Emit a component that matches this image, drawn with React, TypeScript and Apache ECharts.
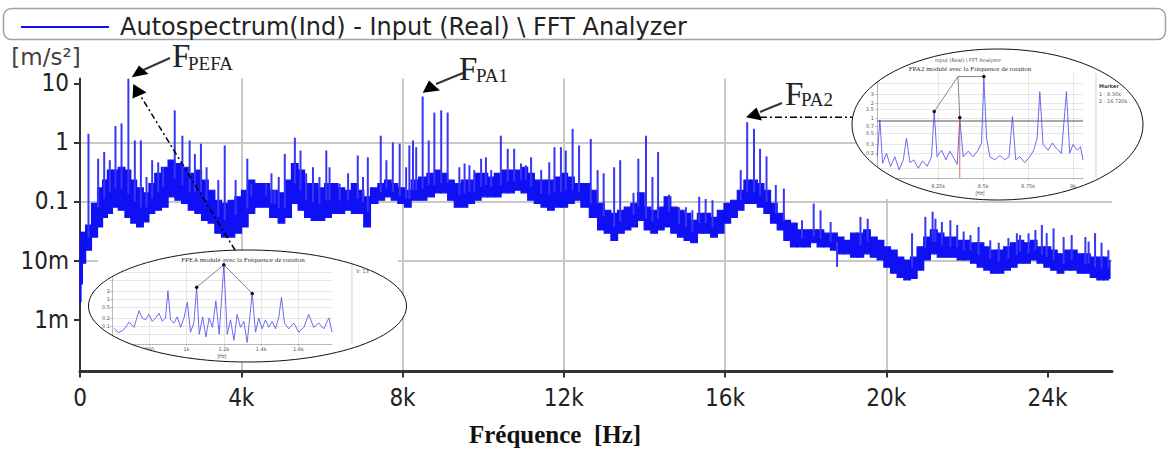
import React, { useEffect, useRef } from "react";
import * as echarts from "echarts";

const seriesName = "Autospectrum(Ind) - Input (Real) \\ FFT Analyzer";
const xTickValues = [0, 4000, 8000, 12000, 16000, 20000, 24000];
const xTickLabels = ["0", "4k", "8k", "12k", "16k", "20k", "24k"];
const yTickValues = [0.001, 0.01, 0.1, 1, 10];
const yTickLabels = ["1m", "10m", "0.1", "1", "10"];

// noise band envelope of the autospectrum (Hz, upper, lower) in m/s²
const bandFreq = [
  0, 40, 80, 200, 370, 500, 620, 740, 870, 1030,
  1200, 1320, 1490, 1650, 1770, 1940, 2100, 2270, 2440, 2600,
  2770, 2930, 3100, 3260, 3430, 3590, 3760, 3920, 4090, 4250,
  4420, 4580, 4830, 5000, 5160, 5330, 5490, 5650, 5820, 5990,
  6150, 6320, 6480, 6650, 6810, 6980, 7100, 7310, 7470, 7640,
  7800, 7970, 8130, 8300, 8500, 8710, 8870, 9040, 9200, 9370,
  9540, 9700, 9870, 10030, 10200, 10360, 10530, 10690, 10860, 11020,
  11190, 11350, 11520, 11680, 11850, 12010, 12180, 12340, 12510, 12760,
  12920, 13090, 13250, 13420, 13580, 13750, 13910, 14080, 14240, 14410,
  14570, 14740, 14900, 15070, 15230, 15400, 15560, 15730, 15890, 16060,
  16220, 16390, 16550, 16720, 16880, 17050, 17210, 17380, 17540, 17710,
  17870, 18040, 18200, 18370, 18530, 18700, 18870, 19030, 19200, 19360,
  19520, 19690, 19860, 20020, 20190, 20350, 20520, 20680, 20850, 21010,
  21180, 21350, 21510, 21680, 21840, 22010, 22170, 22340, 22500, 22670,
  22830, 23000, 23160, 23330, 23490, 23660, 23820, 24000, 24160, 24320,
  24490, 24650, 24820, 24980, 25140, 25310, 25470, 25550,
];
const bandHigh = [
  0.02, 0.03, 0.03, 0.04, 0.093, 0.17, 0.23, 0.34, 0.34, 0.38,
  0.34, 0.23, 0.17, 0.14, 0.2, 0.3, 0.38, 0.5, 0.44, 0.38,
  0.3, 0.34, 0.23, 0.155, 0.105, 0.093, 0.105, 0.12, 0.155, 0.23,
  0.2, 0.2, 0.155, 0.14, 0.23, 0.44, 0.34, 0.2, 0.2, 0.17,
  0.2, 0.2, 0.17, 0.155, 0.2, 0.155, 0.12, 0.17, 0.2, 0.23,
  0.2, 0.17, 0.155, 0.23, 0.26, 0.3, 0.34, 0.3, 0.23, 0.2,
  0.23, 0.23, 0.3, 0.3, 0.26, 0.3, 0.34, 0.34, 0.34, 0.38,
  0.3, 0.23, 0.23, 0.23, 0.26, 0.3, 0.26, 0.2, 0.2, 0.155,
  0.093, 0.071, 0.063, 0.071, 0.08, 0.093, 0.14, 0.08, 0.071, 0.08,
  0.12, 0.08, 0.071, 0.063, 0.048, 0.063, 0.063, 0.054, 0.071, 0.093,
  0.105, 0.155, 0.23, 0.23, 0.2, 0.155, 0.093, 0.063, 0.048, 0.043,
  0.033, 0.033, 0.033, 0.033, 0.029, 0.029, 0.025, 0.022, 0.029, 0.029,
  0.033, 0.025, 0.022, 0.017, 0.015, 0.0114, 0.0102, 0.0114, 0.017, 0.025,
  0.033, 0.029, 0.025, 0.025, 0.022, 0.022, 0.02, 0.02, 0.017, 0.015,
  0.015, 0.017, 0.02, 0.022, 0.02, 0.022, 0.017, 0.017, 0.015, 0.013,
  0.015, 0.015, 0.013, 0.013, 0.0114, 0.0114, 0.0114, 0.01,
];
const bandLow = [
  0.002, 0.004, 0.009, 0.015, 0.025, 0.037, 0.054, 0.063, 0.08, 0.071,
  0.054, 0.043, 0.037, 0.045, 0.063, 0.071, 0.08, 0.12, 0.105, 0.093,
  0.071, 0.063, 0.048, 0.043, 0.029, 0.025, 0.025, 0.029, 0.037, 0.063,
  0.08, 0.08, 0.054, 0.043, 0.054, 0.093, 0.071, 0.054, 0.048, 0.048,
  0.054, 0.063, 0.063, 0.071, 0.063, 0.063, 0.037, 0.093, 0.105, 0.12,
  0.105, 0.093, 0.08, 0.105, 0.105, 0.12, 0.14, 0.14, 0.105, 0.08,
  0.08, 0.093, 0.105, 0.12, 0.12, 0.12, 0.14, 0.14, 0.155, 0.14,
  0.105, 0.093, 0.08, 0.071, 0.08, 0.08, 0.093, 0.105, 0.08, 0.054,
  0.033, 0.029, 0.022, 0.029, 0.033, 0.037, 0.048, 0.033, 0.029, 0.033,
  0.037, 0.029, 0.025, 0.022, 0.02, 0.029, 0.029, 0.025, 0.029, 0.043,
  0.054, 0.071, 0.093, 0.093, 0.08, 0.063, 0.043, 0.033, 0.022, 0.017,
  0.017, 0.017, 0.02, 0.017, 0.017, 0.015, 0.013, 0.013, 0.0114, 0.0114,
  0.013, 0.0114, 0.0102, 0.0077, 0.0061, 0.0052, 0.0047, 0.005, 0.0069, 0.0102,
  0.013, 0.0114, 0.0114, 0.0114, 0.0102, 0.0102, 0.009, 0.0077, 0.0069, 0.0061,
  0.0061, 0.0069, 0.0077, 0.009, 0.009, 0.0102, 0.009, 0.0077, 0.0069, 0.0061,
  0.0069, 0.0069, 0.0061, 0.0061, 0.0052, 0.0047, 0.0047, 0.005,
];

// discrete spectral lines (Hz, peak m/s²)
const spikePeaks = [
  [210, 1.4], [450, 0.53], [600, 0.69], [740, 0.5], [880, 1.9], [1030, 2.1], [1200, 12], [1360, 1.08], [1510, 1.08], [1650, 0.26],
  [1790, 0.5], [1940, 0.46], [2060, 0.38], [2350, 3.5], [2540, 1.3], [2720, 1.08], [2850, 0.64], [3000, 0.95], [3140, 0.38], [3430, 0.23],
  [3590, 0.89], [3860, 0.23], [4150, 0.53], [4250, 0.2], [4620, 0.2], [4750, 0.3], [4830, 0.155], [4930, 0.26], [5080, 0.64], [5330, 1.2],
  [5470, 0.73], [5610, 0.3], [5780, 0.38], [5940, 0.26], [6110, 0.73], [6190, 0.38], [6440, 0.2], [6650, 0.3], [6890, 0.6], [7020, 0.26],
  [7140, 0.56], [7460, 1.3], [7600, 0.5], [7760, 1.0], [7930, 0.95], [8090, 0.38], [8170, 0.89], [8260, 1.08], [8340, 0.83], [8500, 6.0],
  [8650, 1.08], [8790, 3.2], [8960, 3.5], [9120, 3.2], [9410, 0.38], [9540, 0.44], [9660, 0.41], [9780, 0.34], [9950, 0.53], [10070, 0.56],
  [10200, 0.34], [10440, 1.3], [10610, 0.78], [10770, 0.78], [10940, 0.44], [11060, 0.41], [11190, 0.56], [11440, 0.34], [11640, 0.46], [11770, 0.83],
  [11930, 0.83], [12050, 0.73], [12220, 1.7], [12380, 0.89], [12670, 1.15], [12840, 0.34], [12990, 0.3], [13250, 0.38], [13400, 0.5], [13730, 0.14],
  [13850, 0.53], [14040, 1.3], [14200, 0.26], [14340, 0.69], [14610, 0.13], [14860, 0.08], [15030, 0.08], [15190, 0.071], [15360, 0.12], [15520, 0.11],
  [15690, 0.105], [16390, 0.34], [16550, 2.2], [16720, 1.7], [16870, 0.78], [17030, 0.58], [17260, 0.19], [17460, 0.165], [17910, 0.048], [18200, 0.092],
  [18370, 0.071], [18620, 0.045], [18780, 0.0078], [19360, 0.055], [19540, 0.051], [20640, 0.029], [20970, 0.055], [21150, 0.067], [21220, 0.051], [21380, 0.045],
  [21590, 0.048], [21760, 0.04], [21920, 0.031], [22090, 0.027], [22290, 0.037], [22580, 0.022], [22790, 0.02], [23030, 0.024], [23240, 0.029], [23320, 0.027],
  [23530, 0.029], [23700, 0.033], [23860, 0.04], [23980, 0.029], [24150, 0.035], [24400, 0.025], [24600, 0.027], [24940, 0.025], [25020, 0.021], [25180, 0.029],
  [25340, 0.02], [25510, 0.015],
];

// inset 1: F_PEA zoom (Hz, value)
const inset1Points = [
  [611, 0.082], [637, 0.057], [664, 0.075], [691, 0.14], [718, 0.09], [745, 0.37], [762, 0.2], [780, 0.17], [798, 0.27], [816, 0.15],
  [834, 0.2], [852, 0.3], [870, 0.15], [887, 0.2], [900, 2.0], [914, 0.17], [932, 0.13], [950, 0.22], [968, 0.09], [986, 0.2],
  [1004, 0.75], [1021, 0.06], [1039, 0.13], [1054, 2.7], [1068, 0.05], [1086, 0.22], [1104, 0.04], [1121, 0.2], [1139, 0.09], [1157, 0.85],
  [1175, 0.05], [1200, 18], [1218, 0.05], [1236, 0.17], [1254, 0.03], [1271, 0.27], [1289, 0.09], [1307, 0.15], [1325, 0.025], [1352, 1.6],
  [1370, 0.06], [1387, 0.2], [1405, 0.08], [1423, 0.17], [1441, 0.09], [1459, 0.15], [1477, 0.08], [1495, 0.22], [1509, 1.15], [1525, 0.13],
  [1548, 0.08], [1575, 0.13], [1602, 0.06], [1629, 0.09], [1655, 0.27], [1682, 0.09], [1709, 0.13], [1736, 0.08], [1763, 0.2], [1780, 0.06],
];
const inset1Markers = [[1054, 2.7], [1200, 18], [1352, 1.6]];
const inset1YTicks = [0.05, 0.1, 0.2, 0.5, 1, 2, 5, 10];
const inset1YLabels = [0.1, 0.2, 0.5, 1, 2];
const inset1XTicks = [800, 1000, 1200, 1400, 1600];
const inset1XLabels = ["800", "1k", "1.2k", "1.4k", "1.6k"];

// inset 2: F_PA2 zoom (Hz, value)
const inset2Points = [
  [7911, 0.17], [7926, 0.92], [7941, 0.126], [7963, 0.2], [7985, 0.108], [8009, 0.17], [8033, 0.093], [8056, 0.147], [8074, 0.4], [8093, 0.13],
  [8115, 0.147], [8139, 0.1], [8163, 0.14], [8189, 0.11], [8213, 0.17], [8228, 1.36], [8244, 0.17], [8269, 0.23], [8293, 0.147], [8315, 0.22],
  [8337, 0.16], [8356, 0.12], [8370, 1.0], [8389, 0.17], [8417, 0.22], [8444, 0.17], [8472, 0.23], [8491, 0.32], [8504, 6.3], [8519, 0.4],
  [8537, 0.17], [8565, 0.147], [8593, 0.18], [8620, 0.147], [8644, 0.17], [8663, 1.08], [8681, 0.147], [8704, 0.17], [8731, 0.13], [8759, 0.17],
  [8781, 0.23], [8800, 0.4], [8815, 3.4], [8833, 0.3], [8861, 0.23], [8885, 0.32], [8907, 0.25], [8935, 0.2], [8963, 3.4], [8981, 0.2],
  [9000, 0.3], [9022, 0.23], [9041, 0.27], [9055, 0.147],
];
const inset2MarkerPathA = [[8228, 1.36], [8360, 6.8], [8504, 6.8]];
const inset2MarkerPathB = [[8360, 6.8], [8370, 1.03]];
const inset2Cursor = [[8370, 1.03], [8370, 0.064]];
const inset2Threshold = [[7910, 0.88], [9055, 0.88]];
const inset2YTicks = [0.1, 0.2, 0.3, 0.5, 0.7, 1, 1.5, 2, 3, 5];
const inset2YLabels = [0.2, 0.3, 0.5, 0.7, 1, 1.5, 2, 3];
const inset2XTicks = [8250, 8500, 8750, 9000];
const inset2XLabels = ["8.25k", "8.5k", "8.75k", "9k"];

const BLUE = "#1010f4";
const SPIKE = "#3636f4";
const COND = '"DejaVu Sans Condensed", "DejaVu Sans", sans-serif';
const SANS = '"DejaVu Sans", sans-serif';
const SERIF = '"Liberation Serif", "Times New Roman", serif';

function logLabel(vals: number[], labels: string[]) {
  return (v: number) => {
    for (let i = 0; i < vals.length; i++) {
      if (Math.abs(Math.log10(v) - Math.log10(vals[i])) < 0.01) return labels[i];
    }
    return "";
  };
}
function valLabel(vals: number[], labels: string[]) {
  return (v: number) => {
    for (let i = 0; i < vals.length; i++) if (Math.abs(v - vals[i]) < 1e-6) return labels[i];
    return "";
  };
}
function bandMid(f: number) {
  let best = 0;
  for (let i = 0; i < bandFreq.length; i++) {
    if (Math.abs(bandFreq[i] - f) < Math.abs(bandFreq[best] - f)) best = i;
  }
  return Math.sqrt(bandHigh[best] * bandLow[best]);
}
function maskPath(x0: number, y0: number, x1: number, y1: number, cx: number, cy: number, rx: number, ry: number) {
  return `M${x0} ${y0}H${x1}V${y1}H${x0}Z M${cx - rx} ${cy}A${rx} ${ry} 0 1 0 ${cx + rx} ${cy}A${rx} ${ry} 0 1 0 ${cx - rx} ${cy}Z`;
}

const E1 = { cx: 247.5, cy: 306, rx: 159, ry: 56 };
const E2 = { cx: 997.5, cy: 124.5, rx: 145.5, ry: 75.5 };

export default function App() {
  const ref = useRef<HTMLDivElement>(null);
  useEffect(() => {
    document.body.style.margin = "0";
    const g: any = (echarts as any).graphic;
    g.registerShape("insetMaskA", g.extendPath(maskPath(98, 253, 398, 363, E1.cx, E1.cy, E1.rx, E1.ry), {}));
    g.registerShape("insetMaskB", g.extendPath(maskPath(858, 50, 1144, 199, E2.cx, E2.cy, E2.rx, E2.ry), {}));
    const chart = echarts.init(ref.current!, null, { renderer: "svg" });

    const insetAxisCommon = {
      axisLine: { show: true, lineStyle: { color: "#999", width: 0.7 } },
      axisTick: { show: true, length: 2, lineStyle: { color: "#999", width: 0.6 } },
      splitLine: { show: true, lineStyle: { color: "#d6d6d6", width: 0.6 } },
      z: 4,
    };
    const insetLabel = { fontSize: 5, color: "#555", fontFamily: SANS };

    const option: any = {
      animation: false,
      legend: {
        show: true,
        left: 16,
        top: 10,
        selectedMode: false,
        data: [{ name: seriesName, icon: "rect" }],
        itemWidth: 88,
        itemHeight: 2,
        textStyle: { fontSize: 24, fontFamily: SANS, color: "#222", padding: [0, 0, 0, 6] },
      },
      grid: [
        { left: 80, top: 78.5, right: 57, bottom: 80.5, outerBoundsMode: "none", containLabel: false },
        { left: 112, top: 263, width: 220, height: 81, outerBoundsMode: "none", containLabel: false },
        { left: 877, top: 73, width: 206, height: 105, outerBoundsMode: "none", containLabel: false },
      ],
      xAxis: [
        {
          type: "value",
          gridIndex: 0,
          min: 0,
          max: 25600,
          axisLine: { show: true, onZero: false, lineStyle: { color: "#333", width: 3 } },
          axisTick: { show: true, length: 6, customValues: xTickValues, lineStyle: { color: "#333", width: 2 } },
          axisLabel: {
            customValues: xTickValues,
            formatter: valLabel(xTickValues, xTickLabels),
            fontSize: 24,
            fontFamily: COND,
            color: "#222",
            margin: 14,
          },
          splitLine: { show: true, showMinLine: false, showMaxLine: false, lineStyle: { color: "#c8c8c8", width: 2 } },
          name: "Fréquence\u00a0\u00a0[Hz]",
          nameLocation: "middle",
          nameGap: 50,
          nameMoveOverlap: false,
          nameTextStyle: { fontSize: 25, fontWeight: "bold", fontFamily: SERIF, color: "#111", padding: [0, 82, 0, 0] },
        },
        {
          type: "value",
          gridIndex: 1,
          min: 600,
          max: 1780,
          ...insetAxisCommon,
          axisTick: { ...insetAxisCommon.axisTick, customValues: inset1XTicks },
          axisLabel: { ...insetLabel, customValues: inset1XTicks, formatter: valLabel(inset1XTicks, inset1XLabels), margin: 2 },
          name: "[Hz]",
          nameLocation: "middle",
          nameGap: 9,
          nameTextStyle: { fontSize: 5, color: "#555" },
        },
        {
          type: "value",
          gridIndex: 2,
          min: 7910,
          max: 9055,
          ...insetAxisCommon,
          axisTick: { ...insetAxisCommon.axisTick, customValues: inset2XTicks },
          axisLabel: { ...insetLabel, customValues: inset2XTicks, formatter: valLabel(inset2XTicks, inset2XLabels), margin: 5 },
          name: "[Hz]",
          nameLocation: "middle",
          nameGap: 12,
          nameTextStyle: { fontSize: 5, color: "#555" },
        },
      ],
      yAxis: [
        {
          type: "log",
          logBase: 10,
          gridIndex: 0,
          min: 1.32e-4,
          max: 12.1,
          axisLine: { show: true, onZero: false, lineStyle: { color: "#333", width: 2 } },
          axisTick: { show: true, length: 6, customValues: yTickValues, lineStyle: { color: "#333", width: 2 } },
          axisLabel: {
            customValues: yTickValues,
            formatter: logLabel(yTickValues, yTickLabels),
            fontSize: 24,
            lineHeight: 18,
            fontFamily: COND,
            color: "#222",
            margin: 11,
          },
          splitLine: { show: true, showMinLine: false, showMaxLine: false, lineStyle: { color: "#c8c8c8", width: 2 } },
          minorTick: { show: false },
          minorSplitLine: { show: false },
          name: "[m/s²]",
          nameLocation: "end",
          nameGap: 10,
          nameMoveOverlap: false,
          nameTextStyle: { fontSize: 23, lineHeight: 24, fontFamily: SANS, color: "#4a3c3c", align: "center", verticalAlign: "bottom", padding: [0, 68, 0, 0] },
        },
        {
          type: "log",
          logBase: 10,
          gridIndex: 1,
          min: 0.022,
          max: 21,
          ...insetAxisCommon,
          axisTick: { ...insetAxisCommon.axisTick, customValues: inset1YTicks },
          axisLabel: { ...insetLabel, customValues: inset1YLabels, formatter: logLabel(inset1YLabels, inset1YLabels.map(String)), margin: 2 },
          minorTick: { show: false },
        },
        {
          type: "log",
          logBase: 10,
          gridIndex: 2,
          min: 0.064,
          max: 8,
          ...insetAxisCommon,
          axisTick: { ...insetAxisCommon.axisTick, customValues: inset2YTicks },
          axisLabel: { ...insetLabel, customValues: inset2YLabels, formatter: logLabel(inset2YLabels, inset2YLabels.map(String)), margin: 3 },
          minorTick: { show: false },
        },
      ],
      series: [
        {
          type: "custom",
          name: seriesName,
          coordinateSystem: "cartesian2d",
          xAxisIndex: 0,
          yAxisIndex: 0,
          itemStyle: { color: BLUE },
          encode: { x: 0, y: [1, 2] },
          data: bandFreq.map((f, i) => [f, bandHigh[i], bandLow[i]]),
          z: 2,
          silent: true,
          renderItem: (params: any, api: any) => {
            const i = params.dataIndex;
            const f = api.value(0);
            const prev = i > 0 ? bandFreq[i - 1] : f;
            const next = i < bandFreq.length - 1 ? bandFreq[i + 1] : f;
            const left = api.coord([(prev + f) / 2, api.value(1)]);
            const right = api.coord([(f + next) / 2, api.value(2)]);
            return {
              type: "rect",
              shape: { x: left[0], y: left[1], width: Math.max(1, right[0] - left[0]), height: right[1] - left[1] },
              style: { fill: BLUE, stroke: BLUE, lineWidth: 1.2 },
            };
          },
        },
        {
          type: "custom",
          name: "lines",
          coordinateSystem: "cartesian2d",
          xAxisIndex: 0,
          yAxisIndex: 0,
          encode: { x: 0, y: [1, 2] },
          data: spikePeaks.map(([f, p]) => [f, p, bandMid(f)]),
          z: 2,
          silent: true,
          renderItem: (_params: any, api: any) => {
            const a = api.coord([api.value(0), api.value(2)]);
            const b = api.coord([api.value(0), api.value(1)]);
            return {
              type: "line",
              shape: { x1: a[0], y1: a[1], x2: b[0], y2: b[1] },
              style: { stroke: SPIKE, lineWidth: 2 },
            };
          },
        },
        {
          type: "line",
          name: "inset1",
          xAxisIndex: 1,
          yAxisIndex: 1,
          data: inset1Points,
          symbol: "none",
          lineStyle: { color: "#5a5af0", width: 0.9 },
          z: 5,
          silent: true,
        },
        {
          type: "line",
          name: "inset1m",
          xAxisIndex: 1,
          yAxisIndex: 1,
          data: inset1Markers,
          symbol: "circle",
          symbolSize: 3.5,
          itemStyle: { color: "#111" },
          lineStyle: { color: "#666", width: 0.8 },
          z: 5,
          silent: true,
        },
        {
          type: "line",
          name: "inset2",
          xAxisIndex: 2,
          yAxisIndex: 2,
          data: inset2Points,
          symbol: "none",
          lineStyle: { color: "#5a5af0", width: 0.9 },
          z: 5,
          silent: true,
        },
        {
          type: "line",
          name: "inset2thr",
          xAxisIndex: 2,
          yAxisIndex: 2,
          data: inset2Threshold,
          symbol: "none",
          lineStyle: { color: "#555", width: 1 },
          z: 5,
          silent: true,
        },
        {
          type: "line",
          name: "inset2cursor",
          xAxisIndex: 2,
          yAxisIndex: 2,
          data: inset2Cursor,
          symbol: "none",
          lineStyle: { color: "#e04040", width: 0.8 },
          z: 5,
          silent: true,
        },
        {
          type: "line",
          name: "inset2mA",
          xAxisIndex: 2,
          yAxisIndex: 2,
          data: inset2MarkerPathA.map((p, i) => ({ value: p, symbol: i === 1 ? "none" : "circle" })),
          symbolSize: 3.5,
          itemStyle: { color: "#111" },
          lineStyle: { color: "#666", width: 0.8 },
          z: 5,
          silent: true,
        },
        {
          type: "line",
          name: "inset2mB",
          xAxisIndex: 2,
          yAxisIndex: 2,
          data: inset2MarkerPathB.map((p, i) => ({ value: p, symbol: i === 0 ? "none" : "circle" })),
          symbolSize: 3.5,
          itemStyle: { color: "#111" },
          lineStyle: { color: "#666", width: 0.8 },
          z: 5,
          silent: true,
        },
      ],
      graphic: {
        elements: [
          { type: "rect", shape: { x: 3.5, y: 8.5, width: 1162, height: 31, r: 8 }, style: { fill: "none", stroke: "#98a2ae", lineWidth: 1.5 }, z: 1 },
          { type: "ellipse", shape: E1, style: { fill: "#fff" }, z: 3 },
          { type: "ellipse", shape: E2, style: { fill: "#fff" }, z: 3 },
          // inset decorations
          { type: "text", x: 243, y: 259.5, style: { text: "FPEA modulé avec la Fréquence de rotation", font: `7px ${SERIF}`, fill: "#333", align: "center", verticalAlign: "middle", textAlign: "center", textVerticalAlign: "middle" }, z: 5 },
          { type: "line", shape: { x1: 352, y1: 263, x2: 352, y2: 344 }, style: { stroke: "#bbb", lineWidth: 0.7 }, z: 5 },
          { type: "text", x: 356, y: 271, style: { text: "V: 13", font: `5px ${SANS}`, fill: "#555", verticalAlign: "middle", textVerticalAlign: "middle" }, z: 5 },
          { type: "text", x: 968, y: 60, style: { text: "Input (Real) \\ FFT Analyzer", font: `5px ${SANS}`, fill: "#555", align: "center", verticalAlign: "middle", textAlign: "center", textVerticalAlign: "middle" }, z: 5 },
          { type: "text", x: 970, y: 69, style: { text: "FPA2 modulé avec la Fréquence de rotation", font: `7px ${SERIF}`, fill: "#333", align: "center", verticalAlign: "middle", textAlign: "center", textVerticalAlign: "middle" }, z: 5 },
          { type: "line", shape: { x1: 1096, y1: 73, x2: 1096, y2: 178 }, style: { stroke: "#bbb", lineWidth: 0.7 }, z: 5 },
          { type: "text", x: 1099, y: 86, style: { text: "Marker", font: `bold 5px ${SANS}`, fill: "#444", verticalAlign: "middle", textVerticalAlign: "middle" }, z: 5 },
          { type: "text", x: 1099, y: 94, style: { text: "1 : 8.30k", font: `5px ${SANS}`, fill: "#555", verticalAlign: "middle", textVerticalAlign: "middle" }, z: 5 },
          { type: "text", x: 1099, y: 101, style: { text: "2 : 16.720k", font: `5px ${SANS}`, fill: "#555", verticalAlign: "middle", textVerticalAlign: "middle" }, z: 5 },
          // masks that crop the insets to their ellipses
          { type: "insetMaskA", x: 0, y: 0, style: { fill: "#fff" }, z: 6 },
          { type: "insetMaskB", x: 0, y: 0, style: { fill: "#fff" }, z: 6 },
          { type: "ellipse", shape: E1, style: { fill: "none", stroke: "#111", lineWidth: 1 }, z: 7 },
          { type: "ellipse", shape: E2, style: { fill: "none", stroke: "#111", lineWidth: 1 }, z: 7 },
          // annotations
          { type: "text", x: 172, y: 56, style: { text: "F", font: `33px ${SERIF}`, fill: "#222", verticalAlign: "middle", textVerticalAlign: "middle" }, z: 10 },
          { type: "text", x: 188, y: 63, style: { text: "PEFA", font: `19px ${SERIF}`, fill: "#222", verticalAlign: "middle", textVerticalAlign: "middle" }, z: 10 },
          { type: "line", shape: { x1: 170, y1: 58, x2: 141, y2: 71 }, style: { stroke: "#333", lineWidth: 2 }, z: 10 },
          { type: "polygon", shape: { points: [[131.7, 77.3], [139, 65.5], [148.5, 74]] }, style: { fill: "#000" }, z: 10 },
          { type: "text", x: 459, y: 69, style: { text: "F", font: `33px ${SERIF}`, fill: "#222", verticalAlign: "middle", textVerticalAlign: "middle" }, z: 10 },
          { type: "text", x: 476, y: 75, style: { text: "PA1", font: `19px ${SERIF}`, fill: "#222", verticalAlign: "middle", textVerticalAlign: "middle" }, z: 10 },
          { type: "line", shape: { x1: 463, y1: 73, x2: 436, y2: 84 }, style: { stroke: "#333", lineWidth: 2 }, z: 10 },
          { type: "polygon", shape: { points: [[422.7, 92.7], [429, 80.5], [440, 90.5]] }, style: { fill: "#000" }, z: 10 },
          { type: "text", x: 785, y: 94, style: { text: "F", font: `33px ${SERIF}`, fill: "#222", verticalAlign: "middle", textVerticalAlign: "middle" }, z: 10 },
          { type: "text", x: 801, y: 99, style: { text: "PA2", font: `19px ${SERIF}`, fill: "#222", verticalAlign: "middle", textVerticalAlign: "middle" }, z: 10 },
          { type: "line", shape: { x1: 782, y1: 103, x2: 760, y2: 112 }, style: { stroke: "#333", lineWidth: 2 }, z: 10 },
          { type: "polygon", shape: { points: [[746, 117.3], [756.5, 107.5], [762, 120.5]] }, style: { fill: "#000" }, z: 10 },
          { type: "line", shape: { x1: 760, y1: 117.3, x2: 852, y2: 117.3 }, style: { stroke: "#000", lineWidth: 1.5, lineDash: [7, 3, 2, 3] }, z: 10 },
          { type: "line", shape: { x1: 235, y1: 250, x2: 140, y2: 95 }, style: { stroke: "#000", lineWidth: 1.5, lineDash: [6, 3, 2, 3] }, z: 10 },
          { type: "polygon", shape: { points: [[133.3, 84], [132.5, 98.5], [146.5, 92.5]] }, style: { fill: "#000" }, z: 10 },
        ],
      },
    };
    chart.setOption(option);
    return () => chart.dispose();
  }, []);
  return <div ref={ref} style={{ position: "absolute", left: 0, top: 0, width: 1169, height: 452 }} />;
}
